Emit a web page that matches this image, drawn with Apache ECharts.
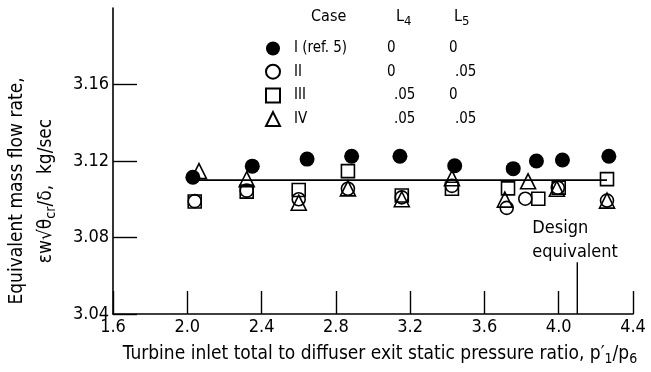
<!DOCTYPE html>
<html>
<head>
  <meta charset="UTF-8">
  <style>
    html, body { margin: 0; padding: 0; background: #fff; }
  </style>
  <script src="https://cdn.jsdelivr.net/npm/echarts@6/dist/echarts.min.js"></script>
</head>
<body>
  <div id="chart" style="width: 651px; height: 372px;"></div>
  <script>
    // values
    const xTicks = [1.6, 2.0, 2.4, 2.8, 3.2, 3.6, 4.0, 4.4]
    const yTicks = [3.04, 3.08, 3.12, 3.16]

    const caseNames = ['I (ref. 5)', 'II', 'III', 'IV']
    const caseL4 = ['0', '0', '.05', '.05']
    const caseL5 = ['0', '.05', '0', '.05']

    const caseIx = [2.03, 2.35, 2.645, 2.885, 3.145, 3.44, 3.755, 3.88, 4.02, 4.27]
    const caseIy = [3.1115, 3.1173, 3.121, 3.1225, 3.1225, 3.1175, 3.116, 3.12, 3.1205, 3.1225]
    const caseIIx = [2.04, 2.32, 2.60, 2.865, 3.155, 3.425, 3.72, 3.82, 3.995, 4.26]
    const caseIIy = [3.099, 3.1045, 3.100, 3.1055, 3.101, 3.107, 3.0955, 3.1003, 3.106, 3.0993]
    const caseIIIx = [2.04, 2.32, 2.60, 2.865, 3.155, 3.425, 3.727, 3.89, 4.0, 4.26]
    const caseIIIy = [3.0988, 3.104, 3.1048, 3.1147, 3.102, 3.1055, 3.1057, 3.1003, 3.106, 3.1105]
    const caseIVx = [2.063, 2.32, 2.60, 2.865, 3.155, 3.425, 3.71, 3.835, 3.99, 4.26]
    const caseIVy = [3.1147, 3.1105, 3.0982, 3.1057, 3.100, 3.111, 3.0998, 3.1094, 3.1055, 3.0993]

    // design equivalent flow line and marker
    const designLineX = [2.03, 4.26]
    const designFlow = 3.11
    const designRatio = 4.1
    const designMarkY = [3.04, 3.067]

    const font = "'DejaVu Sans Condensed', 'Liberation Sans Narrow', 'DejaVu Sans', sans-serif"

    function pairs (xs, ys) {
      return xs.map((x, i) => [x, ys[i]])
    }

    const myChart = echarts.init(document.getElementById('chart'))

    const symbols = ['circle', 'circle', 'rect', 'triangle']
    const sizes = [15, 13, 13, 15]
    const xs = [caseIx, caseIIx, caseIIIx, caseIVx]
    const ys = [caseIy, caseIIy, caseIIIy, caseIVy]

    const caseSeries = caseNames.map((name, i) => ({
      name: name,
      type: 'scatter',
      symbol: symbols[i],
      symbolSize: sizes[i],
      z: 3,
      itemStyle: i === 0
        ? { color: '#000', opacity: 1 }
        : { color: 'transparent', borderColor: '#000', borderWidth: 1.6, opacity: 1 },
      data: pairs(xs[i], ys[i])
    }))

    const option = {
      animation: false,
      backgroundColor: '#fff',
      textStyle: { fontFamily: font, color: '#000' },
      grid: { left: 113, right: 18, top: 8, bottom: 58, outerBoundsMode: 'none' },
      legend: {
        orient: 'vertical',
        left: 265,
        top: 41,
        padding: 0,
        itemWidth: 14,
        itemHeight: 14,
        itemGap: 7.7,
        selectedMode: false,
        data: caseNames,
        textStyle: {
          fontFamily: font,
          fontSize: 15,
          color: '#000',
          rich: {
            a: { width: 93, fontSize: 15, fontFamily: font, padding: [0, 0, 0, 9] },
            b0: { width: 62, fontSize: 15, fontFamily: font },
            b5: { width: 55, fontSize: 15, fontFamily: font, padding: [0, 0, 0, 7] },
            c0: { fontSize: 15, fontFamily: font },
            c5: { fontSize: 15, fontFamily: font, padding: [0, 0, 0, 6] }
          }
        },
        formatter: function (name) {
          const i = caseNames.indexOf(name)
          const b = caseL4[i] === '0' ? 'b0' : 'b5'
          const c = caseL5[i] === '0' ? 'c0' : 'c5'
          return '{a|' + name + '}{' + b + '|' + caseL4[i] + '}{' + c + '|' + caseL5[i] + '}'
        }
      },
      graphic: [
        {
          type: 'text',
          left: 311,
          top: 9,
          style: { text: 'Case', font: '16px ' + font, fill: '#000' }
        },
        {
          type: 'text',
          left: 396,
          top: 9,
          style: {
            text: 'L{s|4}',
            font: '16px ' + font,
            fill: '#000',
            rich: { s: { fontSize: 13, fontFamily: font, padding: [10, 0, 0, 0] } }
          }
        },
        {
          type: 'text',
          left: 454,
          top: 9,
          style: {
            text: 'L{s|5}',
            font: '16px ' + font,
            fill: '#000',
            rich: { s: { fontSize: 13, fontFamily: font, padding: [10, 0, 0, 0] } }
          }
        }
      ],
      xAxis: {
        type: 'value',
        min: 1.6,
        max: 4.4,
        interval: 0.4,
        name: 'Turbine inlet total to diffuser exit static pressure ratio, p′{s|1}/p{s|6}',
        nameLocation: 'middle',
        nameGap: 29,
        nameTextStyle: {
          fontFamily: font,
          fontSize: 19,
          color: '#000',
          padding: [0, 0, 0, 14],
          rich: { s: { fontSize: 14, fontFamily: font, padding: [9, 0, 0, 0] } }
        },
        splitLine: { show: false },
        axisLine: { lineStyle: { color: '#000', width: 1.6 } },
        axisTick: { inside: true, length: 23, lineStyle: { color: '#000', width: 1.4 } },
        axisLabel: {
          fontFamily: font,
          fontSize: 18,
          color: '#000',
          margin: 4,
          customValues: xTicks,
          formatter: v => v.toFixed(1)
        }
      },
      yAxis: {
        type: 'value',
        min: 3.04,
        max: 3.2,
        interval: 0.04,
        name: 'Equivalent mass flow rate,\nεw√θ{s|cr}/δ,  kg/sec',
        nameLocation: 'middle',
        nameRotate: 90,
        nameGap: 52,
        nameTextStyle: {
          fontFamily: font,
          fontSize: 19,
          color: '#000',
          lineHeight: 29,
          padding: [0, 60, 0, 0],
          rich: { s: { fontSize: 14, fontFamily: font, padding: [9, 0, 0, 0] } }
        },
        splitLine: { show: false },
        axisLine: { lineStyle: { color: '#000', width: 1.6 } },
        axisTick: { inside: true, length: 24, customValues: yTicks, lineStyle: { color: '#000', width: 1.4 } },
        axisLabel: {
          fontFamily: font,
          fontSize: 18,
          color: '#000',
          margin: 4,
          customValues: yTicks,
          formatter: v => v.toFixed(2)
        }
      },
      series: [
        {
          name: 'design',
          type: 'line',
          symbol: 'none',
          silent: true,
          z: 2,
          lineStyle: { color: '#000', width: 1.8 },
          data: designLineX.map(x => [x, designFlow])
        },
        {
          name: 'design ratio',
          type: 'line',
          symbol: 'circle',
          symbolSize: 0,
          showSymbol: true,
          silent: true,
          z: 2,
          itemStyle: { color: '#000' },
          lineStyle: { color: '#000', width: 1.4 },
          data: [
            [designRatio, designMarkY[0]],
            {
              value: [designRatio, designMarkY[1]],
              label: {
                show: true,
                formatter: 'Design\nequivalent',
                position: 'top',
                align: 'left',
                distance: 4,
                offset: [-45, 6],
                fontFamily: font,
                fontSize: 18,
                lineHeight: 24,
                color: '#000'
              }
            }
          ]
        }
      ].concat(caseSeries)
    }

    myChart.setOption(option)
  </script>
</body>
</html>
